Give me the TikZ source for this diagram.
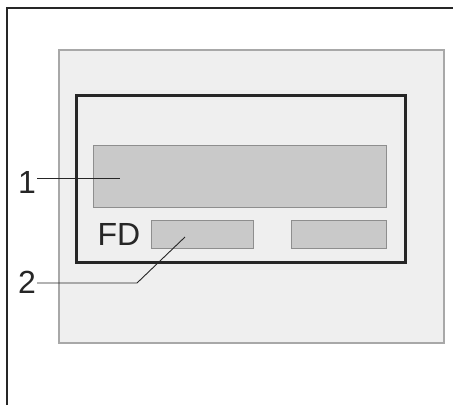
\documentclass[tikz,border=0pt]{standalone}
\usepackage{fontspec}
\setmainfont{Liberation Sans}
\usetikzlibrary{positioning}
\definecolor{panelGray}{HTML}{EFEFEF}
\definecolor{panelLine}{HTML}{A8A8A8}
\definecolor{fieldGray}{HTML}{C9C9C9}
\definecolor{fieldLine}{HTML}{8E8E8E}
\definecolor{inkDark}{HTML}{262626}
\tikzset{
  panelBox/.style={draw=panelLine, fill=panelGray, line width=1.5pt, inner sep=0pt},
  frameBox/.style={draw=inkDark, line width=3pt, inner sep=0pt},
  fieldBox/.style={draw=fieldLine, fill=fieldGray, line width=1pt, inner sep=0pt},
  labelText/.style={text=inkDark, inner sep=1pt, font=\fontsize{32}{38}\selectfont},
  leader/.style={draw=inkDark, line width=0.9pt}
}

\begin{document}
\begin{tikzpicture}[x=1pt, y=-1pt]
  \useasboundingbox (0,0) rectangle (453,405);
  \draw[inkDark, line width=2pt] (7,405) -- (7,8) -- (453,8);

  \node[panelBox, minimum width=385pt, minimum height=293pt] (panel) at (251.5,196.5) {};
  \node[frameBox, minimum width=329pt, minimum height=167pt] (frame) at (240.5,178.5) {};

  \node[fieldBox, minimum width=293pt, minimum height=62pt] (field1) at (239.5,176) {};
  \node[fieldBox, minimum width=102pt, minimum height=28pt] (field2) at (202,234) {};
  \node[fieldBox, minimum width=95pt, minimum height=28pt] (field3) at (338.5,234) {};

  \node[labelText, left=9pt of field2] (fd) {FD};
  \node[labelText] (num1) at (27,182) {1};
  \node[labelText] (num2) at (27,282) {2};

  \coordinate (tip1) at (120,178);
  \coordinate (bend2) at (137,283);
  \coordinate (tip2) at (185,237);

  \draw[leader] (num1.east |- tip1) -- (tip1);
  \draw[leader] (num2.east |- bend2) -- (bend2) -- (tip2);
\end{tikzpicture}
\end{document}
